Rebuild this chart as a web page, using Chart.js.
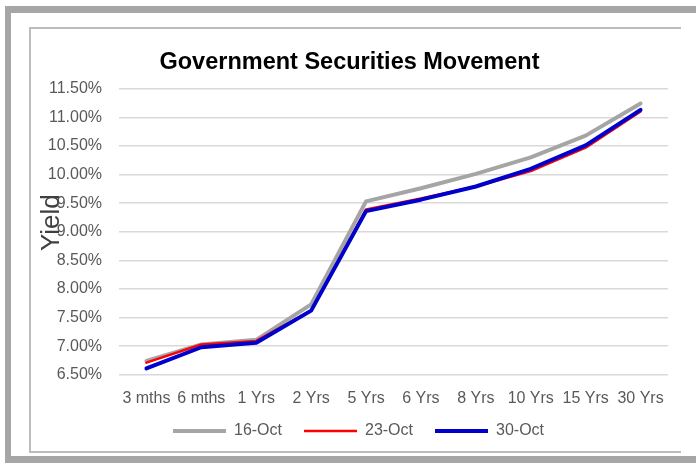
<!DOCTYPE html>
<html><head><meta charset="utf-8">
<script src="https://cdn.jsdelivr.net/npm/chart.js@4/dist/chart.umd.min.js"></script>
<style>
html,body{margin:0;padding:0;background:#fff;width:696px;height:467px;overflow:hidden;position:relative}
#outer{position:absolute;left:5px;top:6px;width:720px;height:443px;border-left:6px solid #a6a6a6;border-top:7px solid #a6a6a6;border-bottom:7px solid #a6a6a6;}
#inner{position:absolute;left:29px;top:27px;width:650px;height:422px;border-left:2px solid #bdbdbd;border-top:2px solid #bdbdbd;border-bottom:2px solid #bdbdbd;}
#wrap{position:absolute;left:31px;top:29px;width:650px;height:438px}
</style></head>
<body>
<div id="outer"></div>
<div id="inner"></div>
<div id="wrap"><canvas id="c"></canvas></div>
<script>
const categories = ['3 mths','6 mths','1 Yrs','2 Yrs','5 Yrs','6 Yrs','8 Yrs','10 Yrs','15 Yrs','30 Yrs'];
const oct16 = [6.74, 7.03, 7.11, 7.73, 9.53, 9.76, 10.01, 10.30, 10.68, 11.24];
const oct23 = [6.71, 7.03, 7.09, 7.62, 9.39, 9.58, 9.79, 10.06, 10.47, 11.10];
const oct30 = [6.61, 6.98, 7.06, 7.62, 9.36, 9.56, 9.79, 10.10, 10.51, 11.13];
const seriesNames = ['16-Oct','23-Oct','30-Oct'];
const chartTitle = 'Government Securities Movement';
const yAxisTitle = 'Yield';
const yMin = 6.5, yMax = 11.5, yStep = 0.5;

const FONT = '"Liberation Sans", Arial, sans-serif';

const yieldLabel = {
  id: 'yieldLabel',
  afterDraw(chart) {
    const ctx = chart.ctx, a = chart.chartArea;
    ctx.save();
    ctx.translate(a.left - 67, a.top + 134);
    ctx.rotate(-Math.PI / 2);
    ctx.font = '26px ' + FONT;
    ctx.fillStyle = '#404040';
    ctx.textAlign = 'center';
    ctx.textBaseline = 'middle';
    ctx.fillText(yAxisTitle, 0, 0);
    ctx.restore();
  }
};
const legendPlace = {
  id: 'legendPlace',
  afterLayout(chart) {
    const lg = chart.legend;
    lg.left += 9; lg.right += 9;
    const dy = (chart.chartArea.bottom + 26.3) - lg.top;
    lg.top += dy; lg.bottom += dy;
  }
};

new Chart(document.getElementById('c'), {
  type: 'line',
  data: {
    labels: categories,
    datasets: [
      {label: seriesNames[0], data: oct16, borderColor: '#a5a5a5', backgroundColor: '#a5a5a5', borderWidth: 4, order: 3},
      {label: seriesNames[1], data: oct23, borderColor: '#ff0000', backgroundColor: '#ff0000', borderWidth: 2.5, order: 2},
      {label: seriesNames[2], data: oct30, borderColor: '#0000cc', backgroundColor: '#0000cc', borderWidth: 4, order: 1}
    ]
  },
  options: {
    responsive: true, maintainAspectRatio: false, animation: false,
    layout: {padding: {left: 0, right: 13, top: 0, bottom: 4.3}},
    elements: {
      point: {radius: 0, hoverRadius: 0, pointStyle: 'line'},
      line: {tension: 0, borderCapStyle: 'round', borderJoinStyle: 'round', fill: false}
    },
    scales: {
      x: {
        offset: true,
        grid: {display: false, drawTicks: false},
        border: {display: false},
        ticks: {color: '#595959', font: {family: FONT, size: 16}, padding: 14, maxRotation: 0, autoSkip: false},
        afterFit(s) { s.height = 40; }
      },
      y: {
        min: yMin, max: yMax,
        grid: {color: '#d9d9d9', lineWidth: 1.5, drawTicks: false},
        border: {display: false},
        ticks: {stepSize: yStep, color: '#595959', font: {family: FONT, size: 16}, padding: 17,
          callback: v => v.toFixed(2) + '%'},
        afterFit(s) { s.width = 88; }
      }
    },
    plugins: {
      title: {display: true, text: chartTitle, color: '#000', font: {family: FONT, size: 23.5, weight: 'bold', lineHeight: 1.2},
        padding: {top: 19.7, bottom: 11.8}},
      legend: {
        position: 'bottom',
        labels: {
          usePointStyle: true, pointStyleWidth: 53, boxHeight: 16, padding: 22,
          color: '#595959', font: {family: FONT, size: 16},
          sort: (a, b) => a.datasetIndex - b.datasetIndex
        }
      },
      tooltip: {enabled: false}
    }
  },
  plugins: [yieldLabel, legendPlace]
});
</script>
</body></html>
